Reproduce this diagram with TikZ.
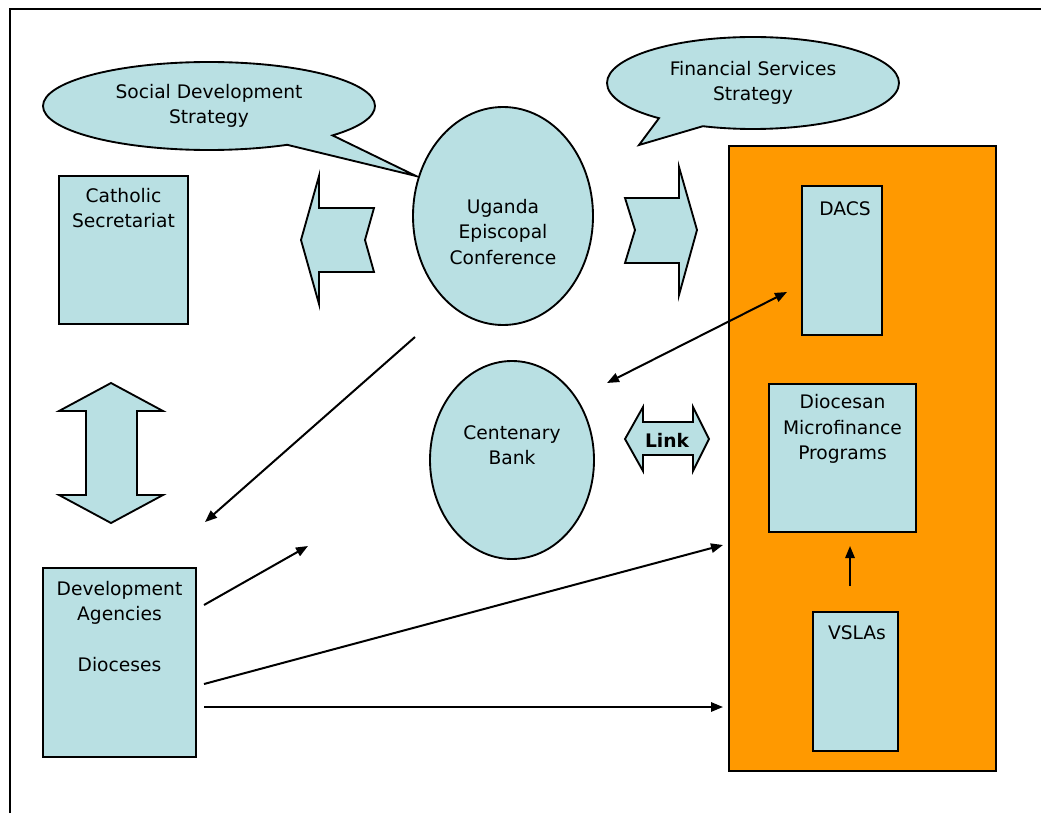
\documentclass[tikz,border=0pt]{standalone}
\usepackage{fontspec}
\setmainfont{DejaVu Sans}
\usetikzlibrary{shapes.geometric,shapes.callouts,arrows.meta,positioning}
\definecolor{paleblue}{RGB}{185,224,227}
\definecolor{deeporange}{RGB}{255,153,0}

\begin{document}
\begin{tikzpicture}[x=0.75pt,y=-0.75pt,
    every node/.style={font=\fontsize{14}{19}\selectfont, align=center},
    blob/.style={draw, line width=1.4pt, fill=paleblue, inner sep=0pt},
    box/.style={blob, rectangle},
    oval/.style={blob, ellipse},
    bubble/.style={blob, ellipse callout, callout pointer arc=20},
    fat/.style={draw, line width=1.4pt, fill=paleblue, line join=miter},
    flow/.style={line width=1.5pt, -{Triangle[length=9pt,width=7pt]}},
    twoway/.style={line width=1.5pt, {Triangle[length=9pt,width=7pt]}-{Triangle[length=9pt,width=7pt]}}]
  \useasboundingbox (0,0) rectangle (1041,813);
  \draw[line width=1.6pt] (10,813) -- (10,9) -- (1041,9);

  % strategies
  \node[bubble, minimum width=249pt, minimum height=66pt,
        callout absolute pointer={(416,176)}] (sds) at (209,106) {Social Development\\Strategy};
  \node[bubble, minimum width=219pt, minimum height=69pt,
        callout absolute pointer={(639,145)}] (fss) at (753,83) {Financial Services\\Strategy};

  \node[oval, minimum width=135pt, minimum height=163.5pt] (uec) at (503,216) {};
  \node (uectext) at (503,232) {Uganda\\Episcopal\\Conference};
  \node[oval, minimum width=123pt, minimum height=148.5pt] (cbank) at (512,460) {};
  \node (cbanktext) at (512,445) {Centenary\\Bank};

  \node[box, minimum width=96.75pt, minimum height=111pt] (cs) at (123.5,250) {};
  \node (cstext) at (123.5,208) {Catholic\\Secretariat};
  \node[box, minimum width=114.75pt, minimum height=141.75pt] (dev) at (119.5,662.5) {};
  \node (devtext) at (119.5,626.5) {Development\\Agencies\\[19pt]Dioceses};

  % microfinance side
  \node[draw, line width=1.4pt, fill=deeporange, minimum width=200.25pt,
        minimum height=468.75pt] (mfi) at (862.5,458.5) {};
  \node[box, minimum width=60pt, minimum height=111.75pt] (dacs) at (842,260.5) {};
  \node (dacstext) at (845,209) {DACS};
  \node[box, minimum width=110.25pt, minimum height=111pt] (dmp) at (842.5,458) {};
  \node (dmptext) at (842.5,429) {Diocesan\\Microfinance\\Programs};
  \node[box, minimum width=63.75pt, minimum height=104.25pt] (vsla) at (855.5,681.5) {};
  \node (vslatext) at (857,633) {VSLAs};

  % block arrows
  \draw[fat] (301,240) -- (319,176) -- (319,208) -- (374,208) -- (365,240) -- (374,272)
    -- (319,272) -- (319,304) -- cycle;
  \draw[fat] (697,230) -- (679,167) -- (679,198) -- (625,198) -- (635,230) -- (625,263)
    -- (679,263) -- (679,295) -- cycle;
  \draw[fat] (111,383) -- (163,411) -- (137,411) -- (137,495) -- (163,495) -- (111,523)
    -- (59,495) -- (86,495) -- (86,411) -- (59,411) -- cycle;
  \draw[fat] (625,439) -- (643,407) -- (643,422) -- (693,422) -- (693,407) -- (709,439)
    -- (693,471) -- (693,455) -- (643,455) -- (643,471) -- cycle;
  \node[font=\fontsize{14}{19}\bfseries] (link) at (667,440) {Link};

  % connectors
  \coordinate (p1) at (415,337);
  \coordinate (p2) at (205,522);
  \coordinate (p3) at (607,383);
  \coordinate (p4) at (787,292);
  \coordinate (p5) at (204,605);
  \coordinate (p6) at (308,546);
  \coordinate (p7) at (204,684);
  \coordinate (p8) at (723,545);
  \coordinate (p9) at (204,707);
  \coordinate (p10) at (723,707);
  \coordinate (p11) at (850,586);
  \coordinate (p12) at (850,546);
  \draw[flow] (p1) -- (p2);
  \draw[twoway] (p3) -- (p4);
  \draw[flow] (p5) -- (p6);
  \draw[flow] (p7) -- (p8);
  \draw[flow] (p9) -- (p10);
  \draw[flow] (p11) -- (p12);
\end{tikzpicture}
\end{document}
